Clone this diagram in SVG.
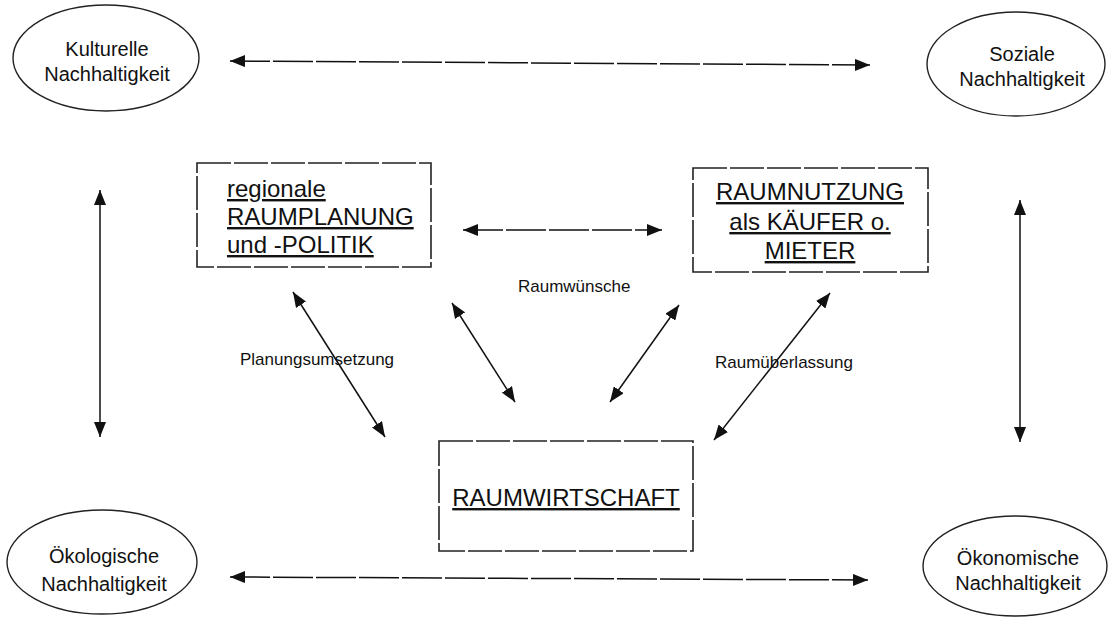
<svg xmlns="http://www.w3.org/2000/svg" width="1109" height="620" viewBox="0 0 1109 620">
<style>
  text { font-family: "Liberation Sans", Arial, sans-serif; fill: #111; }
  .ell { fill: none; stroke: #222; stroke-width: 1.4; }
  .box { fill: none; stroke: #222; stroke-width: 1.6; stroke-dasharray: 34 3; }
  .t20 { font-size: 20px; text-anchor: middle; }
  .t24 { font-size: 24px; text-decoration: underline; }
  .lbl { font-size: 17px; }
  .con { stroke: #111; stroke-width: 1.5; fill: none; marker-start: url(#ah); marker-end: url(#ah); }
  .dash { stroke-dasharray: 40 3; }
</style>
<defs>
  <marker id="ah" markerUnits="userSpaceOnUse" markerWidth="16" markerHeight="12" refX="15" refY="6" orient="auto-start-reverse">
    <path d="M0,0 L15,6 L0,12 z" fill="#111"/>
  </marker>
</defs>
<rect width="1109" height="620" fill="#fff"/>

<g id="kulturelle">
  <ellipse class="ell" cx="106" cy="58" rx="93" ry="53"/>
  <text class="t20" x="107" y="56">Kulturelle</text>
  <text class="t20" x="107" y="81">Nachhaltigkeit</text>
</g>
<g id="soziale">
  <ellipse class="ell" cx="1016" cy="64" rx="89" ry="52"/>
  <text class="t20" x="1022" y="61">Soziale</text>
  <text class="t20" x="1022" y="86">Nachhaltigkeit</text>
</g>
<g id="oekologische">
  <ellipse class="ell" cx="102" cy="562" rx="95" ry="52"/>
  <text class="t20" x="104" y="563">Ökologische</text>
  <text class="t20" x="104" y="591">Nachhaltigkeit</text>
</g>
<g id="oekonomische">
  <ellipse class="ell" cx="1015" cy="566" rx="92" ry="50"/>
  <text class="t20" x="1018" y="565">Ökonomische</text>
  <text class="t20" x="1018" y="590">Nachhaltigkeit</text>
</g>

<g id="raumplanung">
  <rect class="box" x="197" y="163" width="234" height="104"/>
  <text class="t24" x="227" y="197">regionale</text>
  <text class="t24" x="227" y="225">RAUMPLANUNG</text>
  <text class="t24" x="227" y="253">und -POLITIK</text>
</g>
<g id="raumnutzung">
  <rect class="box" x="693" y="168" width="235" height="104"/>
  <text class="t24" x="810" y="200" text-anchor="middle">RAUMNUTZUNG</text>
  <text class="t24" x="810" y="230" text-anchor="middle">als KÄUFER o.</text>
  <text class="t24" x="810" y="259" text-anchor="middle">MIETER</text>
</g>
<g id="raumwirtschaft">
  <rect class="box" x="439" y="441" width="254" height="110"/>
  <text class="t24" x="566" y="506" text-anchor="middle">RAUMWIRTSCHAFT</text>
</g>

<g id="connectors">
  <line class="con dash" x1="230" y1="61" x2="870" y2="65"/>
  <line class="con dash" x1="230" y1="577" x2="868" y2="580"/>
  <line class="con" x1="100" y1="190" x2="100" y2="437"/>
  <line class="con" x1="1020" y1="200" x2="1020" y2="442"/>
  <line class="con dash" x1="463" y1="230" x2="662" y2="230"/>
  <line class="con" x1="293" y1="292" x2="385" y2="437"/>
  <line class="con" x1="452" y1="303" x2="515" y2="402"/>
  <line class="con" x1="679" y1="305" x2="610" y2="402"/>
  <line class="con" x1="830" y1="293" x2="714" y2="440"/>
  <text class="lbl" x="240" y="365">Planungsumsetzung</text>
  <text class="lbl" x="518" y="292">Raumwünsche</text>
  <text class="lbl" x="715" y="368">Raumüberlassung</text>
</g>
</svg>
